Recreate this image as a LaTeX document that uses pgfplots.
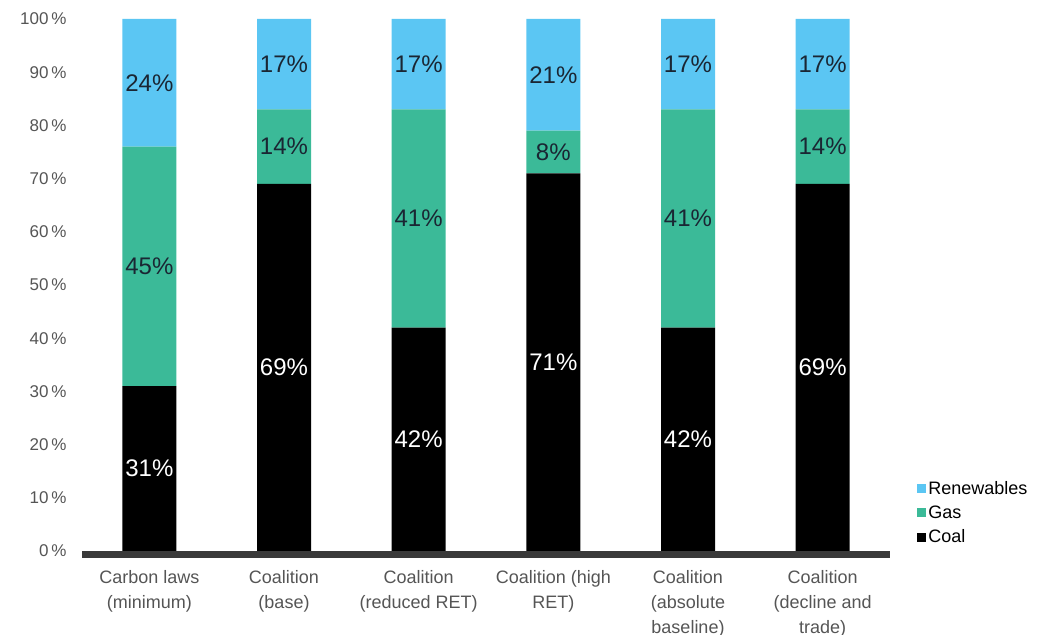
\documentclass[border=0pt]{standalone}
\usepackage{fontspec}
\setmainfont{Liberation Sans}
\usepackage{pgfplots}
\pgfplotsset{compat=1.18}
\usepackage{pgfplotstable}
\definecolor{renew}{HTML}{5BC6F3}
\definecolor{gas}{HTML}{3BBA98}
\definecolor{coal}{HTML}{000000}
\definecolor{axisgray}{HTML}{3A3A3A}
\definecolor{labgray}{HTML}{555555}
\definecolor{valdark}{HTML}{1A2633}
\pgfplotstableread{
x coal gas renew
0 31 45 24
1 69 14 17
2 42 41 17
3 71 8 21
4 42 41 17
5 69 14 17
}\datatable
\pgfplotsset{
  centered labels/.style={
    nodes near coords={\pgfmathprintnumber{\pgfplotspointmeta}\%},
    every node near coord/.append style={
      anchor=center,
      font={\fontsize{24}{28}\selectfont}, color=#1
    }
  }
}
\begin{document}
\begin{tikzpicture}
\useasboundingbox (0,0) rectangle (1045pt,635pt);
\begin{axis}[
  at={(82pt,80.3pt)}, anchor=south west,
  scale only axis, width=808pt, height=535.7pt,
  ybar stacked, bar width=54pt,
  xmin=-0.5, xmax=5.5, ymin=-0.7, ymax=100,
  /pgf/number format/assume math mode=true,
  axis x line*=bottom, axis y line*=left,
  x axis line style={draw=axisgray, line width=7pt, -},
  y axis line style={draw=none},
  major tick length=0pt,
  xtick=data,
  xticklabels={{Carbon laws\\(minimum)},{Coalition\\(base)},{Coalition\\(reduced RET)},{Coalition (high\\RET)},{Coalition\\(absolute\\baseline)},{Coalition\\(decline and\\trade)}},
  xticklabel style={align=center, font={\fontsize{18}{25}\selectfont}, text=labgray, anchor=north, yshift=-12pt},
  ytick={0,10,...,100},
  yticklabels={0\,\%,10\,\%,20\,\%,30\,\%,40\,\%,50\,\%,60\,\%,70\,\%,80\,\%,90\,\%,100\,\%},
  yticklabel style={font={\fontsize{17}{20}\selectfont}, text=labgray, xshift=-12pt},
  legend style={at={(1.03,0.145)}, anchor=north west, draw=none, fill=none,
    font={\fontsize{18}{20}\selectfont}, row sep=6pt,
    /tikz/every even column/.append style={column sep=2pt}},
  legend cell align=left,
  reverse legend,
  legend image code/.code={\fill[#1] (0pt,-4.5pt) rectangle (9pt,4.5pt);},
]
\addplot[fill=coal, draw=none, centered labels=white] table[x=x, y=coal] {\datatable};
\addplot[fill=gas, draw=none, centered labels=valdark] table[x=x, y=gas] {\datatable};
\addplot[fill=renew, draw=none, centered labels=valdark] table[x=x, y=renew] {\datatable};
\legend{Coal,Gas,Renewables}
\end{axis}
\end{tikzpicture}
\end{document}
